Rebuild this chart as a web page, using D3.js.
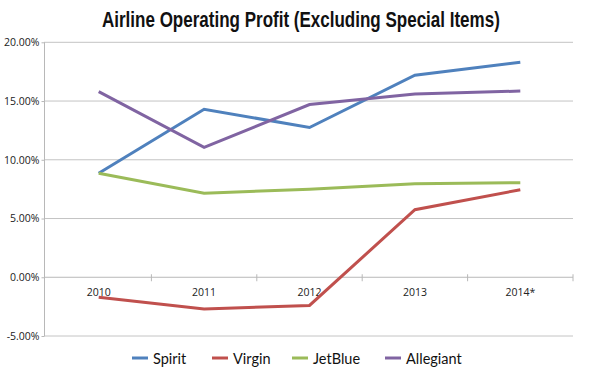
<!DOCTYPE html>
<html><head><meta charset="utf-8">
<script src="https://cdn.jsdelivr.net/npm/d3@7"></script>
<style>body{margin:0;background:#fff}svg{display:block}</style>
</head><body>
<svg id="c" width="590" height="375"></svg>
<script>
const years = ["2010","2011","2012","2013","2014*"];
const spirit = [8.85, 14.3, 12.75, 17.2, 18.3];
const virgin = [-1.7, -2.7, -2.4, 5.75, 7.45];
const jetblue = [8.85, 7.15, 7.5, 7.95, 8.05];
const allegiant = [15.8, 11.05, 14.7, 15.6, 15.85];
const seriesNames = ["Spirit","Virgin","JetBlue","Allegiant"];
const colors = ["#4F81BD","#C0504D","#9BBB59","#8064A2"];
const yTicks = [-5,0,5,10,15,20];
const title = "Airline Operating Profit (Excluding Special Items)";

const series = [spirit, virgin, jetblue, allegiant].map((v,i)=>({name:seriesNames[i], color:colors[i], values:v}));
const svg = d3.select("#c");
const x = d3.scaleBand().domain(years).range([46, 573]);
const y = d3.scaleLinear().domain([-5, 20]).range([336, 42.3]);

// gridlines
svg.append("g").selectAll("line").data(yTicks.filter(d=>d!==0)).join("line")
  .attr("x1", 44).attr("x2", 573).attr("y1", d=>y(d)).attr("y2", d=>y(d))
  .attr("stroke", "#c4c4c4").attr("stroke-width", 1);
// y axis
const ya = svg.append("g").attr("transform","translate(44.5,0)")
  .call(d3.axisLeft(y).tickValues(yTicks).tickSize(3).tickFormat(d=>d.toFixed(2)+"%"));
ya.select(".domain").attr("stroke","#b8b8b8").attr("d", `M0,${y(20)}V${y(-5)}`);
ya.selectAll(".tick line").attr("stroke","#b8b8b8");
ya.selectAll("text").attr("font-family","'Open Sans', sans-serif").attr("font-size", 10.5).attr("fill","#222").attr("x",-5);

// zero axis
svg.append("line").attr("x1",44).attr("x2",573).attr("y1",y(0)).attr("y2",y(0)).attr("stroke","#b8b8b8");
const bounds = years.map(d=>x(d)+x.bandwidth());
svg.append("g").selectAll("line").data(bounds).join("line")
  .attr("x1",d=>d).attr("x2",d=>d).attr("y1",y(0)-3).attr("y2",y(0)+4).attr("stroke","#b8b8b8");
svg.append("g").selectAll("text").data(years).join("text")
  .attr("x", d=>x(d)+x.bandwidth()/2).attr("y", y(0)+19)
  .attr("text-anchor","middle").attr("font-family","'Open Sans', sans-serif").attr("font-size",10.5).attr("fill","#222")
  .text(d=>d);

// lines
const line = d3.line().x((d,i)=>x(years[i])+x.bandwidth()/2).y(d=>y(d));
svg.append("g").selectAll("path").data(series).join("path")
  .attr("d", d=>line(d.values)).attr("fill","none").attr("stroke", d=>d.color).attr("stroke-width",3);

// title (condensed by horizontal scaling)
const tg = svg.append("g");
const tt = tg.append("text").attr("x", 0).attr("y", 0)
  .attr("font-family","'Liberation Sans', Arial, sans-serif").attr("font-weight","bold")
  .attr("font-size", 22).attr("fill","#111").text(title);
const w = tt.node().getComputedTextLength();
tg.attr("transform", `translate(102,27) scale(${398 / w},1)`);

// legend
const legX = [132, 212, 292, 385];
const lg = svg.append("g").selectAll("g").data(series).join("g")
  .attr("transform",(d,i)=>`translate(${legX[i]},358)`);
lg.append("line").attr("x1",0).attr("x2",16).attr("stroke",d=>d.color).attr("stroke-width",3);
lg.append("text").attr("x",21).attr("y",5.5).attr("font-family","Lato, sans-serif").attr("font-size",14.5).attr("fill","#111").text(d=>d.name);
</script>
</body></html>
